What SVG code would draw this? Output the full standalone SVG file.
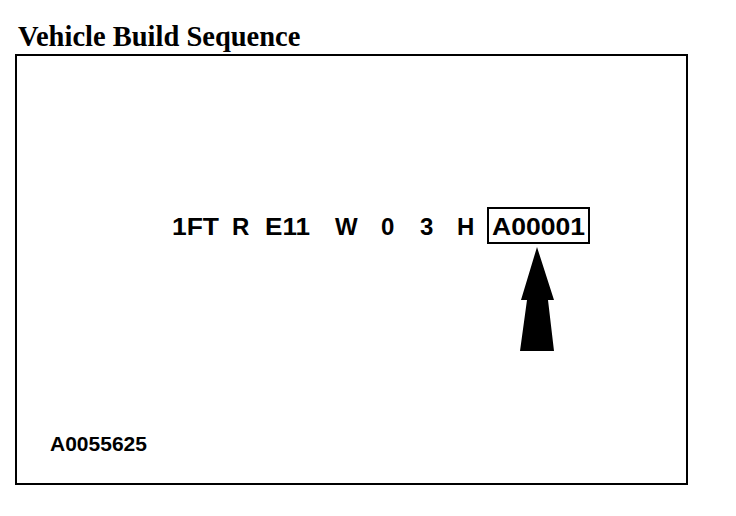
<svg xmlns="http://www.w3.org/2000/svg" width="736" height="516" viewBox="0 0 736 516">
<style>
.code{font-family:"Liberation Sans",Arial,sans-serif;font-weight:bold;font-size:24px;fill:#000}
.title{font-family:"Liberation Serif","Times New Roman",serif;font-weight:bold;font-size:28.5px;fill:#000}
.ref{font-family:"Liberation Sans",Arial,sans-serif;font-weight:bold;font-size:21px;fill:#000}
</style>
<rect width="736" height="516" fill="#fff"/>
<text class="title" x="18" y="46">Vehicle Build Sequence</text>
<rect id="frame" x="16" y="55" width="671" height="429" fill="none" stroke="#000" stroke-width="2"/>
<g id="vin">
<text class="code" x="172" y="235" textLength="47" lengthAdjust="spacingAndGlyphs">1FT</text>
<text class="code" x="232" y="235">R</text>
<text class="code" x="265" y="235" textLength="45" lengthAdjust="spacingAndGlyphs">E11</text>
<text class="code" x="335" y="235">W</text>
<text class="code" x="381" y="235">0</text>
<text class="code" x="420" y="235">3</text>
<text class="code" x="457" y="235">H</text>
</g>
<g id="seq">
<rect x="488" y="208" width="101" height="35" fill="none" stroke="#000" stroke-width="2"/>
<text class="code" x="492" y="235" textLength="93" lengthAdjust="spacingAndGlyphs">A00001</text>
</g>
<g id="connectors">
<path d="M537 247 L554 300 L548 300 L554 351 L520 351 L527 300 L521 300 Z" fill="#000"/>
</g>
<text class="ref" x="50" y="451">A0055625</text>
</svg>
